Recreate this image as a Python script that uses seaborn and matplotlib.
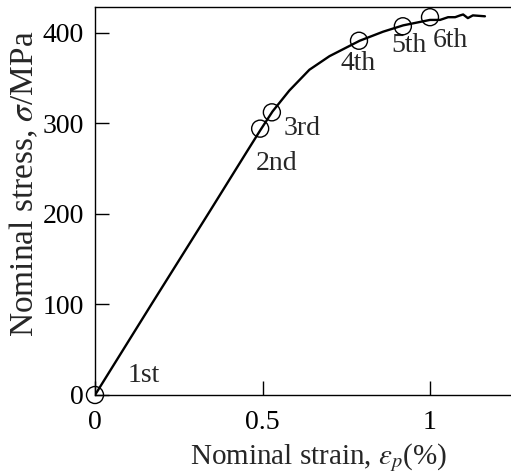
import matplotlib
matplotlib.use("Agg")
import matplotlib.pyplot as plt
import seaborn as sns
import pandas as pd

# Curve data
strain = [0.0, 0.17, 0.343, 0.454, 0.493, 0.53, 0.58, 0.64, 0.70, 0.79, 0.86, 0.92,
          1.00, 1.03, 1.054, 1.075, 1.09, 1.099, 1.113, 1.128, 1.164]
stress = [0, 101, 203, 269, 292, 313, 336, 359, 374, 391, 401, 408,
          414, 414, 417, 417, 419, 420, 416, 419, 418]

# Marked loading points
pt_labels = ["1st", "2nd", "3rd", "4th", "5th", "6th"]
pt_strain = [0.0, 0.493, 0.528, 0.788, 0.919, 1.0]
pt_stress = [0, 294, 312, 391, 407, 417]

# Label text positions (data coordinates)
lab_x = [0.146, 0.543, 0.618, 0.785, 0.937, 1.06]
lab_y = [22, 256, 294, 366, 386, 391]

xticks = [0, 0.5, 1]
yticks = [0, 100, 200, 300, 400]

sns.set_style("ticks")
plt.rcParams["font.family"] = ["Liberation Serif", "DejaVu Serif"]
plt.rcParams["mathtext.fontset"] = "stix"

W, H = 511, 475
x0, y0 = 95, 395          # pixel of data origin
pxx, pxy = 335, 0.906     # pixels per unit strain / per MPa
top = 7

fig = plt.figure(figsize=(W / 100, H / 100), dpi=100)
ax = fig.add_axes([x0 / W, 1 - y0 / H, (W - x0) / W, (y0 - top) / H])

curve = pd.DataFrame({"strain": strain, "stress": stress})
pts = pd.DataFrame({"strain": pt_strain, "stress": pt_stress})

sns.lineplot(data=curve, x="strain", y="stress", ax=ax, color="black",
             linewidth=1.7, sort=False, estimator=None)
sns.scatterplot(data=pts, x="strain", y="stress", ax=ax, s=150,
                facecolor="none", edgecolor="black", linewidth=1.0,
                zorder=5, clip_on=False)

for t, x, y in zip(pt_labels, lab_x, lab_y):
    ax.text(x, y, t, fontsize=20, ha="center", va="center")

ax.set_xlim(0, (W - x0) / pxx)
ax.set_ylim(0, (y0 - top) / pxy)
ax.set_xticks(xticks)
ax.set_xticklabels(["0", "0.5", "1"])
ax.set_yticks(yticks)
ax.tick_params(direction="in", length=10, width=1.0, labelsize=20,
               colors="black")
ax.tick_params(axis="x", pad=11)
ax.tick_params(axis="y", pad=8)
ax.spines["right"].set_visible(False)
for s in ["left", "bottom", "top"]:
    ax.spines[s].set_linewidth(1.0)
    ax.spines[s].set_color("black")

ax.set_xlabel(r"Nominal strain, $\varepsilon_p$(%)", fontsize=21)
ax.set_ylabel(r"Nominal stress, $\sigma$/MPa", fontsize=24)
ax.xaxis.set_label_coords((319 - x0) / (W - x0), (y0 - 441) / (y0 - top))
ax.yaxis.set_label_coords((40 - x0) / (W - x0), (y0 - 184) / (y0 - top))

fig.savefig("out.png", dpi=100)
